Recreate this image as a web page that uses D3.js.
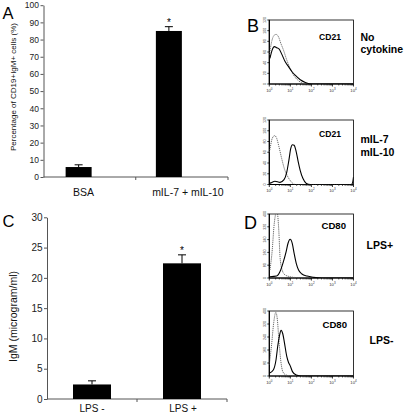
<!DOCTYPE html>
<html><head><meta charset="utf-8">
<script src="https://cdn.jsdelivr.net/npm/d3@7"></script>
<style>body{margin:0;background:#fff} svg{display:block} text{font-family:"Liberation Sans",Arial,sans-serif}</style>
</head><body>
<svg id="c" width="406" height="419"></svg>
<script>
// ---- Data ----
const panelA_categories = ["BSA", "mIL-7 + mIL-10"];
const panelA_values = [5.8, 85.0];
const panelA_errors = [1.3, 2.5];
const panelA_ticks = [0, 10, 20, 30, 40, 50, 60, 70, 80, 90, 100];
const panelA_significant = [false, true];

const panelC_categories = ["LPS -", "LPS +"];
const panelC_values = [2.4, 22.4];
const panelC_errors = [0.6, 1.4];
const panelC_ticks = [0, 5, 10, 15, 20, 25, 30];
const panelC_significant = [false, true];

const histB_yTicks = [0, 20, 40, 60, 80, 100, 120];
const histD_yTicks = [0, 80, 160, 240, 320, 400];
const hist_xDecades = [0, 1, 2, 3, 4];

// [log10 fluorescence, count]
const histB1_dotted = [[0,54],[0.11,79],[0.22,91],[0.32,93],[0.43,89],[0.55,76],[0.67,64],[0.83,45],[0.99,29],[1.15,17],[1.39,6],[1.63,1],[1.8,0],[4,0]];
const histB1_solid  = [[0.03,48],[0.13,63],[0.24,70],[0.35,68],[0.46,66],[0.59,56],[0.75,42],[0.92,32],[1.08,23],[1.24,16],[1.47,8],[1.71,3],[2.03,0],[4,0]];
const histB2_dotted = [[0,60],[0.05,70],[0.14,86],[0.26,91],[0.35,86],[0.46,70],[0.59,48],[0.72,29],[0.86,16],[1.02,6],[1.23,0],[4,0]];
const histB2_solid  = [[0,2],[0.07,3],[0.27,6],[0.51,4],[0.70,9],[0.83,23],[0.93,45],[1.02,67],[1.10,74],[1.18,73],[1.26,64],[1.36,45],[1.47,26],[1.60,11],[1.76,2],[1.95,0],[3.9,0],[3.96,4],[4,14]];
const histD1_dotted = [[0.03,50],[0.14,175],[0.22,320],[0.29,394],[0.34,420],[0.38,410],[0.45,300],[0.51,133],[0.61,50],[0.75,19],[0.99,8],[1.31,2],[1.6,0],[4,0]];
const histD1_solid  = [[0.03,8],[0.35,12],[0.51,40],[0.67,102],[0.80,165],[0.89,217],[0.99,242],[1.09,217],[1.18,154],[1.28,92],[1.39,50],[1.55,25],[1.79,12],[2.11,4],[2.5,0],[4,0]];
const histD2_dotted = [[0,69],[0.11,194],[0.21,329],[0.31,392],[0.38,350],[0.46,214],[0.55,89],[0.64,27],[0.80,6],[1.07,0],[4,0]];
const histD2_solid  = [[0,17],[0.19,37],[0.32,100],[0.40,183],[0.48,246],[0.56,281],[0.64,260],[0.72,204],[0.83,121],[0.91,85],[0.99,64],[1.10,27],[1.28,6],[1.55,0],[4,0]];

const svg = d3.select("#c");

// ---- Bar panels ----
function barPanel(o) {
  const g = svg.append("g");
  const y = d3.scaleLinear().domain([0, d3.max(o.ticks)]).range([o.y0, o.y1]);
  const x = d3.scaleBand().domain(o.cats).range([o.x0, o.x1]);
  const ax = g.append("g").attr("transform", `translate(${o.x0},0)`)
    .call(d3.axisLeft(y).tickValues(o.ticks).tickSize(3).tickSizeOuter(0).tickPadding(1.5));
  ax.selectAll("path,line").attr("stroke", "#555");
  ax.selectAll("text").attr("font-size", o.tickFont).attr("fill", "#222")
    .attr("font-family", '"Liberation Sans",Arial,sans-serif');
  // x axis
  g.append("line").attr("x1", o.x0).attr("x2", o.x1).attr("y1", y(0)).attr("y2", y(0)).attr("stroke", "#555");
  g.selectAll(".bt").data(o.cats.slice(1).map(c => x(c)).concat([o.x1])).enter().append("line")
    .attr("x1", d => d).attr("x2", d => d).attr("y1", y(0)).attr("y2", y(0) + 3).attr("stroke", "#555");
  const cx = (c, i) => x(c) + x.bandwidth() / 2 + o.barShift[i];
  g.selectAll(".bar").data(o.cats).enter().append("rect")
    .attr("x", (c, i) => cx(c, i) - o.barW / 2).attr("width", o.barW)
    .attr("y", (c, i) => y(o.vals[i])).attr("height", (c, i) => y(0) - y(o.vals[i]))
    .attr("fill", "#000");
  g.selectAll(".ev").data(o.cats).enter().append("line")
    .attr("x1", (c, i) => cx(c, i)).attr("x2", (c, i) => cx(c, i))
    .attr("y1", (c, i) => y(o.vals[i])).attr("y2", (c, i) => y(o.vals[i] + o.errs[i]))
    .attr("stroke", "#000").attr("stroke-width", 1);
  g.selectAll(".ec").data(o.cats).enter().append("line")
    .attr("x1", (c, i) => cx(c, i) - 4).attr("x2", (c, i) => cx(c, i) + 4)
    .attr("y1", (c, i) => y(o.vals[i] + o.errs[i])).attr("y2", (c, i) => y(o.vals[i] + o.errs[i]))
    .attr("stroke", "#000").attr("stroke-width", 1);
  g.selectAll(".ast").data(o.cats.filter((c, i) => o.sig[i])).enter().append("text")
    .attr("x", c => cx(c, o.cats.indexOf(c)))
    .attr("y", c => { const i = o.cats.indexOf(c); return y(o.vals[i] + o.errs[i]) - 1; })
    .attr("text-anchor", "middle").attr("font-size", 10).text("*");
  g.selectAll(".xl").data(o.cats).enter().append("text")
    .attr("x", (c, i) => x(c) + x.bandwidth() / 2 + o.labelShift[i])
    .attr("y", o.labelY).attr("text-anchor", "middle").attr("font-size", o.labelFont).attr("fill", "#111")
    .text(c => c);
  g.append("text").attr("transform", `translate(${o.ylabX},${o.ylabY}) rotate(-90)`)
    .attr("text-anchor", "middle").attr("font-size", o.ylabFont).attr("fill", "#111").text(o.ylab);
  g.append("text").attr("x", 2.5).attr("y", o.letterY).attr("font-size", 16.5).text(o.letter);
}

barPanel({cats: panelA_categories, vals: panelA_values, errs: panelA_errors, ticks: panelA_ticks, sig: panelA_significant,
  x0: 43.5, x1: 228, y0: 177, y1: 5.2, barW: 26, barShift: [-11, -13], labelShift: [-6, 6], labelY: 195.5,
  labelFont: 10.5, tickFont: 8.5, ylab: "Percentage of CD19+IgM+ cells (%)", ylabX: 16, ylabY: 87, ylabFont: 8, letter: "A", letterY: 18.5});

barPanel({cats: panelC_categories, vals: panelC_values, errs: panelC_errors, ticks: panelC_ticks, sig: panelC_significant,
  x0: 47, x1: 227, y0: 399, y1: 217.3, barW: 38, barShift: [0, 0], labelShift: [0, 1], labelY: 411.5,
  labelFont: 10, tickFont: 10, ylab: "IgM (microgram/ml)", ylabX: 17.3, ylabY: 316.5, ylabFont: 10.5, letter: "C", letterY: 227});

// ---- Histogram panels ----
let clipId = 0;
function hist(o) {
  const g = svg.append("g");
  const x = d3.scaleLinear().domain([0, 4]).range([o.x0, o.x1]);
  const y = d3.scaleLinear().domain([0, d3.max(o.yTicks)]).range([o.y1, o.y0]);
  const id = "clip" + (clipId++);
  g.append("clipPath").attr("id", id).append("rect")
    .attr("x", o.x0).attr("y", o.y0).attr("width", o.x1 - o.x0).attr("height", o.y1 - o.y0);
  g.append("rect").attr("x", o.x0).attr("y", o.y0).attr("width", o.x1 - o.x0).attr("height", o.y1 - o.y0)
    .attr("fill", "none").attr("stroke", "#000").attr("stroke-width", 0.8);
  g.append("line").attr("x1", o.x0).attr("x2", o.x0).attr("y1", o.y0).attr("y2", o.y1).attr("stroke", "#000").attr("stroke-width", 1.2);
  g.append("line").attr("x1", o.x0).attr("x2", o.x1).attr("y1", o.y1).attr("y2", o.y1).attr("stroke", "#000").attr("stroke-width", 1.2);
  // y ticks
  g.selectAll(".yt").data(o.yTicks).enter().append("line")
    .attr("x1", o.x0 - 2).attr("x2", o.x0).attr("y1", d => y(d)).attr("y2", d => y(d)).attr("stroke", "#000").attr("stroke-width", 0.8);
  g.selectAll(".yl").data(o.yTicks).enter().append("text")
    .attr("transform", d => `translate(${o.x0 - 3},${y(d)}) rotate(-90)`)
    .attr("text-anchor", "middle").attr("font-size", 3.6).attr("fill", "#333").text(d => d);
  // x ticks major/minor
  const minors = [];
  hist_xDecades.slice(0, -1).forEach(d => { for (let k = 2; k <= 9; k++) minors.push(d + Math.log10(k)); });
  g.selectAll(".xm").data(minors).enter().append("line")
    .attr("x1", d => x(d)).attr("x2", d => x(d)).attr("y1", o.y1).attr("y2", o.y1 + 1.5).attr("stroke", "#000").attr("stroke-width", 0.6);
  g.selectAll(".xt").data(hist_xDecades).enter().append("line")
    .attr("x1", d => x(d)).attr("x2", d => x(d)).attr("y1", o.y1).attr("y2", o.y1 + 2.5).attr("stroke", "#000").attr("stroke-width", 0.8);
  const xl = g.selectAll(".xl").data(hist_xDecades).enter().append("text")
    .attr("x", d => x(d)).attr("y", o.y1 + 7.5).attr("text-anchor", "middle").attr("font-size", 4.2).attr("fill", "#333");
  xl.append("tspan").text("10");
  xl.append("tspan").attr("dy", -2).attr("font-size", 3).text(d => d);
  const line = d3.line().x(d => x(d[0])).y(d => y(d[1])).curve(d3.curveMonotoneX);
  const cg = g.append("g").attr("clip-path", `url(#${id})`);
  cg.append("path").datum(o.dotted).attr("d", line).attr("fill", "none")
    .attr("stroke", "#555").attr("stroke-width", 0.9).attr("stroke-dasharray", "1.2,0.9");
  cg.append("path").datum(o.solid).attr("d", line).attr("fill", "none")
    .attr("stroke", "#000").attr("stroke-width", 1.1);
  g.append("text").attr("x", o.markerX).attr("y", o.markerY).attr("font-size", o.markerFont)
    .attr("font-weight", "bold").text(o.marker);
  o.labels.forEach((t, i) => {
    g.append("text").attr("x", o.labelX).attr("y", o.labelY + i * o.labelGap).attr("font-size", 10.5)
      .attr("font-weight", "bold").text(t);
  });
  if (o.letter) g.append("text").attr("x", o.letterX).attr("y", o.letterY).attr("font-size", 18).text(o.letter);
}

hist({x0: 269.3, x1: 353.5, y0: 20, y1: 84, yTicks: histB_yTicks, dotted: histB1_dotted, solid: histB1_solid,
  marker: "CD21", markerX: 319, markerY: 39.5, markerFont: 8.6, labels: ["No", "cytokine"], labelX: 360.5, labelY: 40.5, labelGap: 12.5,
  letter: "B", letterX: 247, letterY: 31.7});
hist({x0: 269.3, x1: 353.5, y0: 120, y1: 184.5, yTicks: histB_yTicks, dotted: histB2_dotted, solid: histB2_solid,
  marker: "CD21", markerX: 319, markerY: 136.5, markerFont: 8.6, labels: ["mIL-7", "mIL-10"], labelX: 360.5, labelY: 142.5, labelGap: 13.3});
hist({x0: 269.3, x1: 353.5, y0: 214, y1: 278, yTicks: histD_yTicks, dotted: histD1_dotted, solid: histD1_solid,
  marker: "CD80", markerX: 321.5, markerY: 229, markerFont: 9.6, labels: ["LPS+"], labelX: 366.5, labelY: 248.5, labelGap: 0,
  letter: "D", letterX: 244, letterY: 228.5});
hist({x0: 269.3, x1: 353.5, y0: 311, y1: 376, yTicks: histD_yTicks, dotted: histD2_dotted, solid: histD2_solid,
  marker: "CD80", markerX: 322.5, markerY: 327.5, markerFont: 9.6, labels: ["LPS-"], labelX: 369.5, labelY: 344, labelGap: 0});
</script>
</body></html>
